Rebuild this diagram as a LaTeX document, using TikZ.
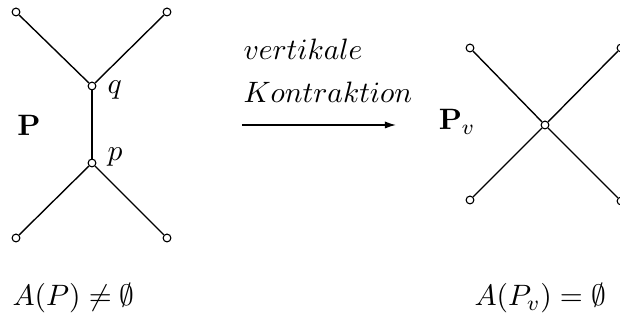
\documentclass[tikz,border=0pt]{standalone}
\usetikzlibrary{arrows.meta}
\begin{document}
\begin{tikzpicture}[x=0.36pt,y=-0.36pt,
  vtx/.style={circle,draw,fill=white,inner sep=0pt,minimum size=2.8pt,line width=0.4pt},
  edge/.style={line width=0.5pt},
  lbl/.style={inner sep=0pt,scale=0.97,font=\fontsize{10.95}{13}\selectfont}]
\useasboundingbox (0,0) rectangle (620,324);
% left graph
\node[vtx] (a1) at (16,12) {};
\node[vtx] (a2) at (167,12) {};
\node[vtx] (q) at (92,86) {};
\node[vtx] (p) at (92,163) {};
\node[vtx] (a3) at (16,238) {};
\node[vtx] (a4) at (167,238) {};
\draw[edge] (a1) -- (q);
\draw[edge] (a2) -- (q);
\draw[edge] (q) -- (p);
\draw[edge] (p) -- (a3);
\draw[edge] (p) -- (a4);
\node[lbl,anchor=west] (ql) at (107,90) {$q$};
\node[lbl,anchor=west] (pl) at (107,157) {$p$};
\node[lbl] (P) at (29,125) {$\mathbf{P}$};
% arrow
\node[lbl,anchor=base west] (t1) at (243,60) {$vertikale$};
\node[lbl,anchor=base west] (t2) at (243,103) {$Kontraktion$};
\coordinate (s) at (242,125);
\coordinate (e) at (396,125);
\draw[line width=0.5pt,-{Latex[length=4pt,width=2.6pt]}] (s) -- (e);
% right graph
\node[vtx] (c) at (545,125) {};
\node[vtx] (b1) at (470,48) {};
\node[vtx] (b2) at (621,48) {};
\node[vtx] (b3) at (470,200) {};
\node[vtx] (b4) at (621,201) {};
\draw[edge] (b1) -- (c);
\draw[edge] (b2) -- (c);
\draw[edge] (b3) -- (c);
\draw[edge] (b4) -- (c);
\node[lbl] (Pv) at (457,122) {$\mathbf{P}_v$};
% bottom
\node[lbl,anchor=base west] (f1) at (12,306) {$A(P)\neq\emptyset$};
\node[lbl,anchor=base west] (f2) at (474,306) {$A(P_v)=\emptyset$};
\end{tikzpicture}
\end{document}
